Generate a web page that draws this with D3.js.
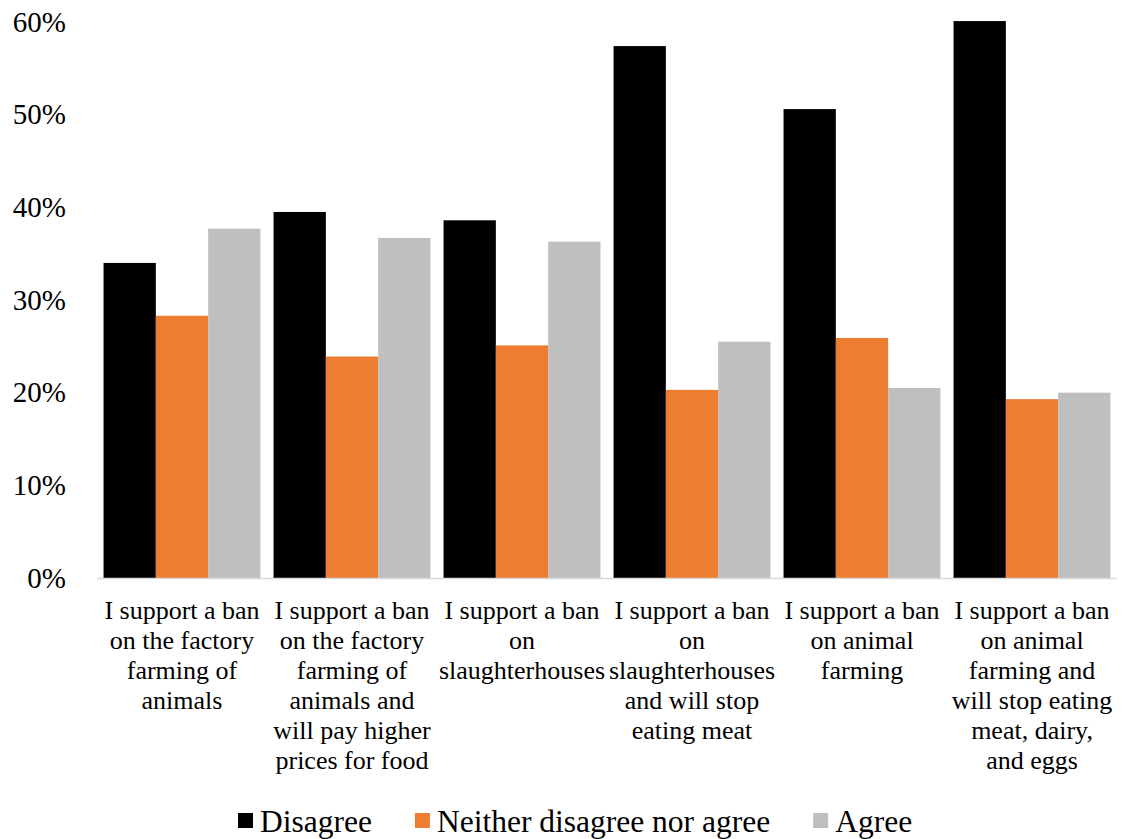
<!DOCTYPE html>
<html>
<head>
<meta charset="utf-8">
<script src="https://cdn.jsdelivr.net/npm/d3@7"></script>
<style>
  body { margin: 0; background: #fff; }
  svg { display: block; }
</style>
</head>
<body>
<svg id="chart" width="1124" height="839"></svg>
<script>
// category labels, already broken into lines as in the source
const categories = [
  ["I support a ban", "on the factory", "farming of", "animals"],
  ["I support a ban", "on the factory", "farming of", "animals and", "will pay higher", "prices for food"],
  ["I support a ban", "on", "slaughterhouses"],
  ["I support a ban", "on", "slaughterhouses", "and will stop", "eating meat"],
  ["I support a ban", "on animal", "farming"],
  ["I support a ban", "on animal", "farming and", "will stop eating", "meat, dairy,", "and eggs"]
];
const seriesNames = ["Disagree", "Neither disagree nor agree", "Agree"];
const disagree = [0.340, 0.395, 0.386, 0.574, 0.506, 0.601];
const neither  = [0.283, 0.239, 0.251, 0.203, 0.259, 0.193];
const agree    = [0.377, 0.367, 0.363, 0.255, 0.205, 0.200];
const yTicks = [0, 0.1, 0.2, 0.3, 0.4, 0.5, 0.6];

const colors = ["#000000", "#ed7d31", "#bfbfbf"];
const values = [disagree, neither, agree];
const serif = "Liberation Serif";

const svg = d3.select("#chart").style("font-family", serif);
const plotLeft = 97, plotRight = 1117, plotTop = 22, plotBottom = 578;

const x = d3.scaleBand()
  .domain(d3.range(categories.length))
  .range([plotLeft, plotRight])
  .paddingInner(0.077)
  .paddingOuter(0.0385);

const x1 = d3.scaleBand()
  .domain(d3.range(seriesNames.length))
  .range([0, x.bandwidth()]);

const y = d3.scaleLinear().domain([0, 0.6]).range([plotBottom, plotTop]);

// bars
const groups = svg.append("g")
  .selectAll("g")
  .data(categories.map((c, i) => i))
  .join("g")
  .attr("transform", i => `translate(${x(i)},0)`);

groups.selectAll("rect")
  .data(i => values.map((s, k) => ({ k, v: s[i] })))
  .join("rect")
  .attr("x", d => x1(d.k))
  .attr("width", x1.bandwidth())
  .attr("y", d => y(d.v))
  .attr("height", d => y(0) - y(d.v))
  .attr("fill", d => colors[d.k]);

// x axis line
svg.append("line")
  .attr("x1", plotLeft).attr("x2", plotRight)
  .attr("y1", plotBottom + 0.5).attr("y2", plotBottom + 0.5)
  .attr("stroke", "#d9d9d9")
  .attr("stroke-width", 1.5);

// y axis labels
const yAxis = svg.append("g")
  .attr("transform", "translate(66,0)")
  .call(d3.axisLeft(y).tickValues(yTicks).tickFormat(d3.format(".0%")).tickSize(0).tickPadding(0));
yAxis.attr("font-family", null).select(".domain").remove();
yAxis.selectAll("text")
  .attr("font-size", 29)
  .style("font-family", serif)
  .attr("fill", "#000");

// category labels
const catLabels = svg.append("g")
  .selectAll("text")
  .data(categories)
  .join("text")
  .attr("text-anchor", "middle")
  .attr("font-size", 26)
  .style("font-family", serif)
  .attr("fill", "#000")
  .attr("transform", (d, i) => `translate(${x(i) + x.bandwidth() / 2},619)`);

catLabels.selectAll("tspan")
  .data(d => d)
  .join("tspan")
  .attr("x", 0)
  .attr("y", (d, j) => j * 30)
  .text(d => d);

// legend
const legend = svg.append("g").attr("transform", "translate(238,0)");
let lx = 0;
seriesNames.forEach((name, k) => {
  legend.append("rect")
    .attr("x", lx).attr("y", 813)
    .attr("width", 15).attr("height", 15)
    .attr("fill", colors[k]);
  const t = legend.append("text")
    .attr("x", lx + 22).attr("y", 832)
    .attr("font-size", 31.5)
    .style("font-family", serif)
    .attr("fill", "#000")
    .text(name);
  lx += 22 + t.node().getComputedTextLength() + 43;
});
</script>
</body>
</html>
